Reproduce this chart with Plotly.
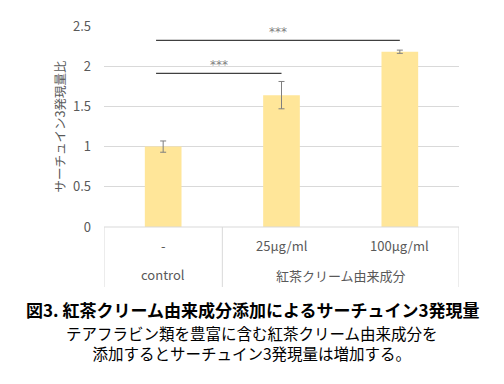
import plotly.graph_objects as go

# Data
groups = ["-", "25μg/ml", "100μg/ml"]
super_groups = ["control", "紅茶クリーム由来成分"]
values = [1.0, 1.64, 2.18]
errors = [0.07, 0.17, 0.02]
sig_pairs = [(0, 1), (0, 2)]
sig_heights = [1.91, 2.32]
sig_labels = ["***", "***"]
y_ticks = [0, 0.5, 1, 1.5, 2, 2.5]
y_tick_labels = ["0", "0.5", "1", "1.5", "2", "2.5"]
y_title = "サーチュイン3発現量比"
caption_title = "図3. 紅茶クリーム由来成分添加によるサーチュイン3発現量"
caption_lines = ["テアフラビン類を豊富に含む紅茶クリーム由来成分を", "添加するとサーチュイン3発現量は増加する。"]

W, H = 504, 384
ML, MR, MT, MB = 104, 45, 26, 157
PH = H - MT - MB
FONT = "Noto Sans CJK JP"


def py(px):
    """pixel y -> paper y"""
    return (H - MB - px) / PH


x = list(range(len(groups)))
fig = go.Figure()
fig.add_trace(go.Bar(
    x=x, y=values, width=0.31,
    marker=dict(color="#FFE699", line=dict(width=0)),
    error_y=dict(type="data", array=errors, visible=True, color="#7F7F7F", thickness=1, width=3),
    hoverinfo="skip",
))

shapes = []
annotations = []
# significance brackets
for (i, j), h, lab in zip(sig_pairs, sig_heights, sig_labels):
    x0, x1 = i - 0.06, j
    shapes.append(dict(type="line", xref="x", yref="y", x0=x0, x1=x1, y0=h, y1=h,
                       line=dict(color="#404040", width=1.2)))
    annotations.append(dict(xref="x", yref="y", x=(x0 + x1) / 2, y=h, yshift=8, text=lab,
                            showarrow=False, font=dict(family="DejaVu Sans", size=12, color="#7F7F7F")))

# bottom category table lines
n = len(groups)
shapes.append(dict(type="line", xref="x", yref="paper", x0=-0.5, x1=n - 0.5, y0=0, y1=0,
                   line=dict(color="#D9D9D9", width=1)))
for xv in [-0.5, 0.5, n - 0.5]:
    shapes.append(dict(type="line", xref="x", yref="paper", x0=xv, x1=xv, y0=0, y1=py(287),
                       line=dict(color="#D9D9D9", width=1)))

for xi, g in zip(x, groups):
    annotations.append(dict(xref="x", yref="paper", x=xi, y=py(245), text=g, showarrow=False,
                            yanchor="middle", font=dict(family=FONT, size=13, color="#595959")))
annotations.append(dict(xref="x", yref="paper", x=0, y=py(274), text=super_groups[0], showarrow=False,
                        yanchor="middle", font=dict(family=FONT, size=13, color="#595959")))
annotations.append(dict(xref="x", yref="paper", x=1.5, y=py(275), text=super_groups[1], showarrow=False,
                        yanchor="middle", font=dict(family=FONT, size=13, color="#595959")))

# caption
cx = (W / 2 - ML) / (W - ML - MR)
annotations.append(dict(xref="paper", yref="paper", x=cx, y=py(309),
                        text="<b>" + caption_title + "</b>", showarrow=False, yanchor="middle",
                        font=dict(family=FONT, size=17, color="#000000")))
annotations.append(dict(xref="paper", yref="paper", x=cx, y=py(343),
                        text="<br>".join(caption_lines), showarrow=False, yanchor="middle", align="center",
                        font=dict(family=FONT, size=15.5, color="#000000")))

fig.update_layout(
    width=W, height=H,
    margin=dict(l=ML, r=MR, t=MT, b=MB, pad=0),
    paper_bgcolor="white", plot_bgcolor="white",
    showlegend=False,
    shapes=shapes, annotations=annotations,
    xaxis=dict(range=[-0.5, n - 0.5], showticklabels=False, showgrid=False, zeroline=False,
               showline=False, ticks="", fixedrange=True),
    yaxis=dict(range=[0, 2.5], tickvals=y_ticks, ticktext=y_tick_labels,
               showgrid=True, gridcolor="#D9D9D9", gridwidth=1, zeroline=False, showline=False,
               ticks="", ticklabelstandoff=12,
               tickfont=dict(family=FONT, size=13, color="#595959"),
               title=dict(text=y_title, standoff=4, font=dict(family=FONT, size=12.5, color="#595959")),
               fixedrange=True),
)

fig.write_html("out.html")
